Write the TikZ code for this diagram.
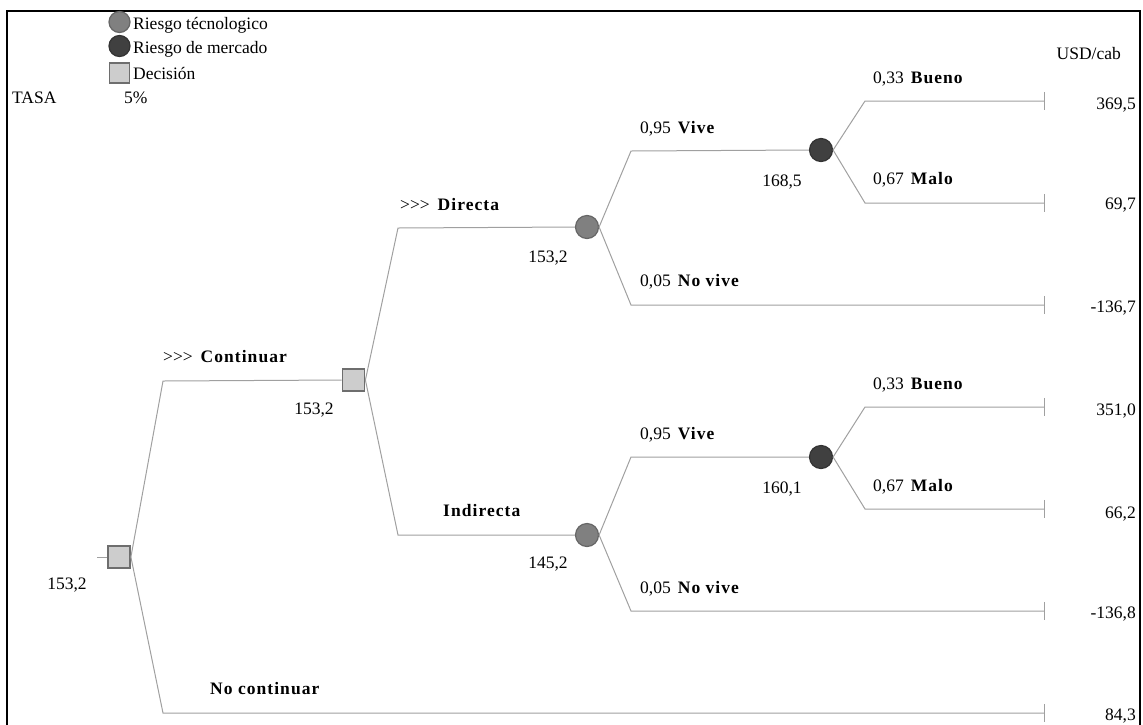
\documentclass[tikz,border=0pt]{standalone}
\usepackage{fontspec}
\setmainfont{Liberation Serif}[BoldFeatures={LetterSpace=6}]
\newcommand{\chosen}{>\kern0pt>\kern0pt>\hspace{0.45em}}
\begin{document}
\definecolor{branchgray}{HTML}{A0A0A0}
\definecolor{techfill}{HTML}{808080}
\definecolor{techline}{HTML}{666666}
\definecolor{mktfill}{HTML}{404040}
\definecolor{mktline}{HTML}{333333}
\definecolor{decfill}{HTML}{CDCDCD}
\definecolor{decline}{HTML}{6E6E6E}
\begin{tikzpicture}[x=1pt,y=-1pt,
  branch/.style={draw=branchgray,line width=1pt},
  tech/.style={circle,minimum size=23pt,inner sep=0,fill=techfill,draw=techline,line width=1.2pt},
  market/.style={circle,minimum size=23pt,inner sep=0,fill=mktfill,draw=mktline,line width=1.2pt},
  decision/.style={rectangle,minimum size=22pt,inner sep=0,fill=decfill,draw=decline,line width=1.8pt},
  term/.style={rectangle,minimum height=18pt,minimum width=0pt,inner sep=0},
  txt/.style={inner sep=0,font=\fontsize{17.5}{20}\selectfont},
  lbl/.style={txt,anchor=base west},
  val/.style={txt,anchor=base},
  pay/.style={txt,anchor=base east}]
\useasboundingbox (0,0) rectangle (1143,724);
% frame
\draw[line width=2.5pt] (7,730) -- (7,11) -- (1140,11) -- (1140,730);

% legend
\node[tech,minimum size=21pt] (lgtech) at (119.5,22) {};
\node[market,minimum size=21pt] (lgmkt) at (119.5,46) {};
\node[decision,minimum size=20pt,line width=1.5pt] (lgdec) at (119.5,73) {};
\node[lbl] (lgtechtxt) at (133,29) {Riesgo técnologico};
\node[lbl] (lgmkttxt) at (133,53) {Riesgo de mercado};
\node[lbl] (lgdectxt) at (133,79) {Decisión};
\node[lbl] (tasa) at (12,103) {TASA};
\node[lbl] (tasaval) at (124,103) {5\%};
\node[pay] (unit) at (1121,59) {USD/cab};

% decision and chance nodes
\node[decision] (root) at (119,557) {};
\node[decision] (cont) at (353.5,380) {};
\node[tech] (dir) at (587,227) {};
\node[tech] (ind) at (587,535) {};
\node[market] (mkt1) at (821,150) {};
\node[market] (mkt2) at (821,457) {};

% terminal ticks
\foreach \n/\y in {t1/101,t2/203,t3/305,t4/407,t5/509,t6/611,t7/713}
  \node[term] (\n) at (1044,\y) {};
\foreach \n in {t1,t2,t3,t4,t5,t6,t7}
  \draw[branch] (\n.north) -- (\n.south);

% bend points
\coordinate (kin) at (97,557);
\coordinate (kc) at (163,381);
\coordinate (kn) at (163,713);
\coordinate (kd) at (398,228);
\coordinate (ki) at (398,535);
\coordinate (kdv) at (631,151);
\coordinate (kdn) at (631,305);
\coordinate (kiv) at (631,457);
\coordinate (kin2) at (631,611);
\coordinate (k1b) at (865,101);
\coordinate (k1m) at (865,203);
\coordinate (k2b) at (865,407);
\coordinate (k2m) at (865,509);

% branches
\draw[branch] (kin) -- (root.west);
\draw[branch] (root.east) -- (kc) -- (cont.west);
\draw[branch] (root.east) -- (kn) -- (t7);
\draw[branch] (cont.east) -- (kd) -- (dir.west);
\draw[branch] (cont.east) -- (ki) -- (ind.west);
\draw[branch] (dir.east) -- (kdv) -- (mkt1.west);
\draw[branch] (dir.east) -- (kdn) -- (t3);
\draw[branch] (ind.east) -- (kiv) -- (mkt2.west);
\draw[branch] (ind.east) -- (kin2) -- (t6);
\draw[branch] (mkt1.east) -- (k1b) -- (t1);
\draw[branch] (mkt1.east) -- (k1m) -- (t2);
\draw[branch] (mkt2.east) -- (k2b) -- (t4);
\draw[branch] (mkt2.east) -- (k2m) -- (t5);

% branch labels
\node[lbl] (lcont) at (163,362) {\chosen\textbf{Continuar}};
\node[lbl] (lnocont) at (210,694) {\textbf{No continuar}};
\node[lbl] (ldir) at (400,210) {\chosen\textbf{Directa}};
\node[lbl] (lind) at (443,516) {\textbf{Indirecta}};
\node[lbl] (ldv) at (640,133) {0,95\hspace{0.4em}\textbf{Vive}};
\node[lbl] (ldn) at (640,286) {0,05\hspace{0.4em}\textbf{No vive}};
\node[lbl] (liv) at (640,439) {0,95\hspace{0.4em}\textbf{Vive}};
\node[lbl] (lin) at (640,593) {0,05\hspace{0.4em}\textbf{No vive}};
\node[lbl] (l1b) at (873,83) {0,33\hspace{0.4em}\textbf{Bueno}};
\node[lbl] (l1m) at (873,184) {0,67\hspace{0.4em}\textbf{Malo}};
\node[lbl] (l2b) at (873,389) {0,33\hspace{0.4em}\textbf{Bueno}};
\node[lbl] (l2m) at (873,491) {0,67\hspace{0.4em}\textbf{Malo}};

% expected values
\node[val] (vroot) at (67,589) {153,2};
\node[val] (vcont) at (314,414) {153,2};
\node[val] (vdir) at (548,262) {153,2};
\node[val] (vind) at (548,568) {145,2};
\node[val] (vmkt1) at (782,186) {168,5};
\node[val] (vmkt2) at (782,493) {160,1};

% payoffs
\node[pay] (p1) at (1136,109) {369,5};
\node[pay] (p2) at (1136,209) {69,7};
\node[pay] (p3) at (1136,312) {-136,7};
\node[pay] (p4) at (1136,415) {351,0};
\node[pay] (p5) at (1136,518) {66,2};
\node[pay] (p6) at (1136,618) {-136,8};
\node[pay] (p7) at (1136,720) {84,3};
\end{tikzpicture}
\end{document}
